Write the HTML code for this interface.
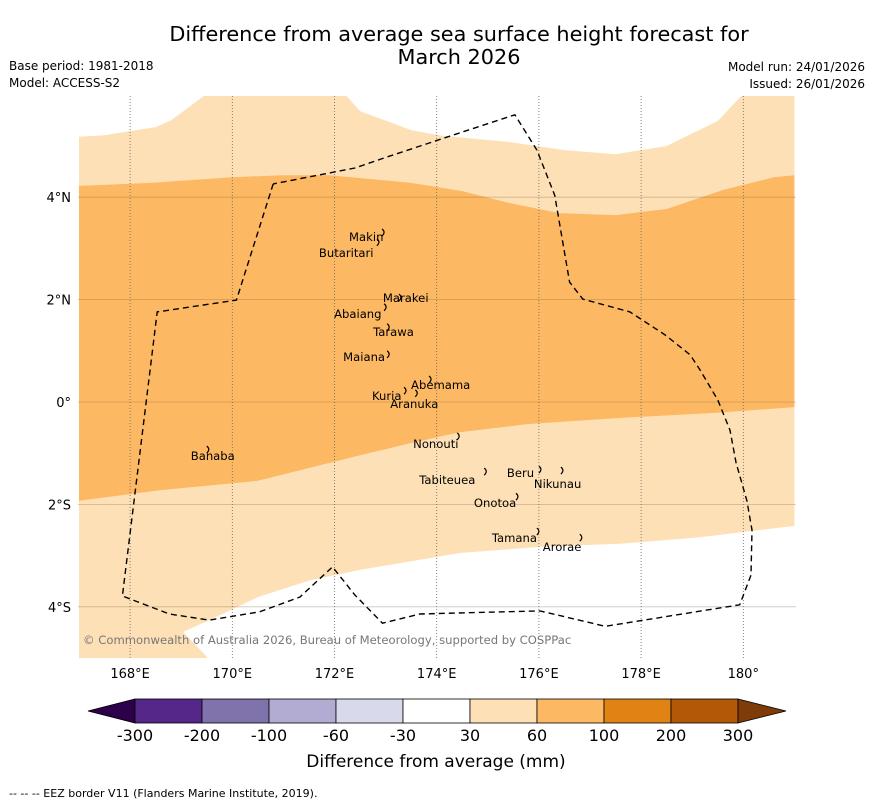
<!DOCTYPE html>
<html><head><meta charset="utf-8"><style>
body{margin:0;background:#fff;font-family:"DejaVu Sans","Liberation Sans",sans-serif;}
svg text{font-family:"DejaVu Sans","Liberation Sans",sans-serif;}
</style></head><body>
<svg id="c" width="873" height="804" viewBox="0 0 873 804" xmlns="http://www.w3.org/2000/svg">
<text x="459" y="41" font-size="20.8" text-anchor="middle">Difference from average sea surface height forecast for</text>
<text x="459" y="64" font-size="20.8" text-anchor="middle">March 2026</text>
<text x="9" y="70" font-size="12">Base period: 1981-2018</text>
<text x="9" y="87" font-size="12">Model: ACCESS-S2</text>
<text x="865" y="71" font-size="12" text-anchor="end">Model run: 24/01/2026</text>
<text x="865" y="88" font-size="12" text-anchor="end">Issued: 26/01/2026</text>
<g id="map"></g>
<g id="cbar"></g>
<text x="436" y="767" font-size="17" text-anchor="middle">Difference from average (mm)</text>
<text x="9" y="797" font-size="11">--  --  -- EEZ border V11 (Flanders Marine Institute, 2019).</text>
</svg>
<script>
const lonTicks=[168,170,172,174,176,178,180];
const lonLabels=["168°E","170°E","172°E","174°E","176°E","178°E","180°"];
const latTicks=[4,2,0,-2,-4];
const latLabels=["4°N","2°N","0°","2°S","4°S"];
const upperLightLon=[167,167.5,168.5,168.8,169.5,172.2,172.5,173.5,174.1,175.4,176.5,177.5,178.5,179.5,180,181];
const upperLightLat=[5.18,5.21,5.37,5.5,6.02,6.02,5.68,5.31,5.2,5.08,4.92,4.84,5.0,5.49,6.02,6.02];
const orangeTopLon=[167,168.4,170,171,171.9,173.5,174.5,175.4,176.4,177.5,178.5,179.6,180.6,181];
const orangeTopLat=[4.22,4.28,4.39,4.43,4.43,4.28,4.12,3.89,3.69,3.65,3.77,4.14,4.39,4.43];
const orangeBotLon=[167,168.6,170.5,171.5,172.5,173.5,174.45,175.8,177.6,179.5,181];
const orangeBotLat=[-1.93,-1.72,-1.54,-1.29,-1.04,-0.8,-0.59,-0.43,-0.31,-0.21,-0.1];
const lowerLightLon=[169.52,169.04,169.55,170.5,171.52,172.5,173.5,174.45,176.02,177.59,179.15,181];
const lowerLightLat=[-5,-4.49,-4.26,-3.81,-3.48,-3.28,-3.11,-2.95,-2.83,-2.77,-2.64,-2.42];
const eezLon=[170.8,170.08,168.53,167.85,168.77,169.55,170.53,171.32,171.96,172.4,172.94,173.67,176.02,177.3,179.93,180.15,180.17,180.07,179.86,179.74,179.5,179.15,178.96,178.47,177.78,176.86,176.6,176.31,175.96,175.53,174.55,172.98,172.4,170.8];
const eezLat=[4.26,1.99,1.76,-3.79,-4.14,-4.26,-4.10,-3.81,-3.22,-3.77,-4.32,-4.14,-4.08,-4.38,-3.96,-3.38,-2.5,-1.93,-1.19,-0.55,0.04,0.63,0.92,1.31,1.76,2.01,2.34,4.04,4.92,5.61,5.29,4.77,4.57,4.26];
const islandNames=["Makin","Butaritari","Marakei","Abaiang","Tarawa","Maiana","Abemama","Kuria","Aranuka","Nonouti","Banaba","Beru","Nikunau","Tabiteuea","Onotoa","Tamana","Arorae"];
const islandLon=[172.95,172.85,173.28,172.99,173.05,173.05,173.87,173.38,173.6,174.42,169.52,176.02,176.45,174.95,175.57,175.98,176.82];
const islandLat=[3.30,3.11,2.03,1.84,1.45,0.92,0.43,0.21,0.16,-0.68,-0.94,-1.33,-1.35,-1.37,-1.86,-2.54,-2.66];
const labelDx=[-34,-59,-17,-51,-15,-45,-19,-33,-26,-45,-17,-33,-28,-66,-43,-46,-38];
const labelDy=[8,14,4,10,8,6,9,9,14,11,10,7,17,12,10,10,13];
const cbLevels=["-300","-200","-100","-60","-30","30","60","100","200","300"];
const cbColors=["#542788","#8073ac","#b2abd2","#d8daeb","#ffffff","#fee0b6","#fdb863","#e08214","#b35806"];

const NS="http://www.w3.org/2000/svg";
const X0=79,XS=51.1,Y0=402,YS=51.2,L=78,R=796,T=96,B=658;
const lx=lon=>X0+(lon-167)*XS, ly=lat=>Y0-lat*YS;
function mk(tag,attrs,parent){const e=document.createElementNS(NS,tag);for(const k in attrs)e.setAttribute(k,attrs[k]);parent.appendChild(e);return e;}
const map=document.getElementById('map');
const pts=(lo,la)=>lo.map((v,i)=>lx(v).toFixed(1)+','+ly(la[i]).toFixed(1));
const defs=mk('defs',{},map);const cp=mk('clipPath',{id:'clip'},defs);mk('rect',{x:L,y:T,width:R-L,height:B-T},cp);
const g=mk('g',{'clip-path':'url(#clip)'},map);
let p=[...pts(upperLightLon,upperLightLat),lx(181)+','+ly(-2.42),...pts(lowerLightLon,lowerLightLat).reverse(),lx(167)+','+ly(-5)];
let light=mk('polygon',{points:p.join(' '),fill:'#fee0b6'},g);


let op=[...pts(orangeTopLon,orangeTopLat),...pts(orangeBotLon,orangeBotLat).reverse()];
let orange=mk('polygon',{points:op.join(' '),fill:'#fdb863'},g);


lonTicks.forEach((v,i)=>{
 const ln=mk('line',{x1:lx(v),x2:lx(v),y1:T,y2:B,stroke:'#666','stroke-width':0.8,'stroke-dasharray':'1,2'},g);
 
 
 const t=mk('text',{x:lx(v),y:678,'font-size':13,'text-anchor':'middle'},map);t.textContent=lonLabels[i];
 
 
});
latTicks.forEach((v,i)=>{
 const ln=mk('line',{x1:L,x2:R,y1:ly(v),y2:ly(v),stroke:'rgba(120,90,60,0.35)','stroke-width':0.8},g);
 
 
 const t=mk('text',{x:71,y:ly(v)+5,'font-size':13,'text-anchor':'end'},map);t.textContent=latLabels[i];
 
 
});
const eez=mk('polyline',{points:pts(eezLon,eezLat).join(' '),fill:'none',stroke:'#000','stroke-width':1.4,'stroke-dasharray':'6,4'},g);


islandNames.forEach((n,i)=>{
 const x=lx(islandLon[i]),y=ly(islandLat[i]);
 const s=mk('path',{d:`M${x-1},${y-4} q4,3 0,7`,stroke:'#000','stroke-width':1.2,fill:'none'},g);
 
 
 const t=mk('text',{x:x+labelDx[i],y:y+labelDy[i],'font-size':11.6},g);t.textContent=n;
 
 
});
const cr=mk('text',{x:83,y:644,'font-size':11.6,fill:'#777'},g);cr.textContent='© Commonwealth of Australia 2026, Bureau of Meteorology, supported by COSPPac';


const cb=document.getElementById('cbar');const CX0=135,CW=67,CY=699,CH=24;
const la=mk('polygon',{points:`${CX0},${CY} ${CX0},${CY+CH} 88,${CY+CH/2}`,fill:'#2d004b',stroke:'#000','stroke-width':0.8},cb);


cbColors.forEach((c,i)=>{
 const r=mk('rect',{x:CX0+i*CW,y:CY,width:CW,height:CH,fill:c,stroke:'#000','stroke-width':0.8},cb);
 
 
});
const xe=CX0+cbColors.length*CW;
const ra=mk('polygon',{points:`${xe},${CY} ${xe},${CY+CH} 786,${CY+CH/2}`,fill:'#7f3b08',stroke:'#000','stroke-width':0.8},cb);


cbLevels.forEach((v,i)=>{
 const t=mk('text',{x:CX0+i*CW,y:741,'font-size':16,'text-anchor':'middle'},cb);t.textContent=v;
 
 
});
</script>
</body></html>
